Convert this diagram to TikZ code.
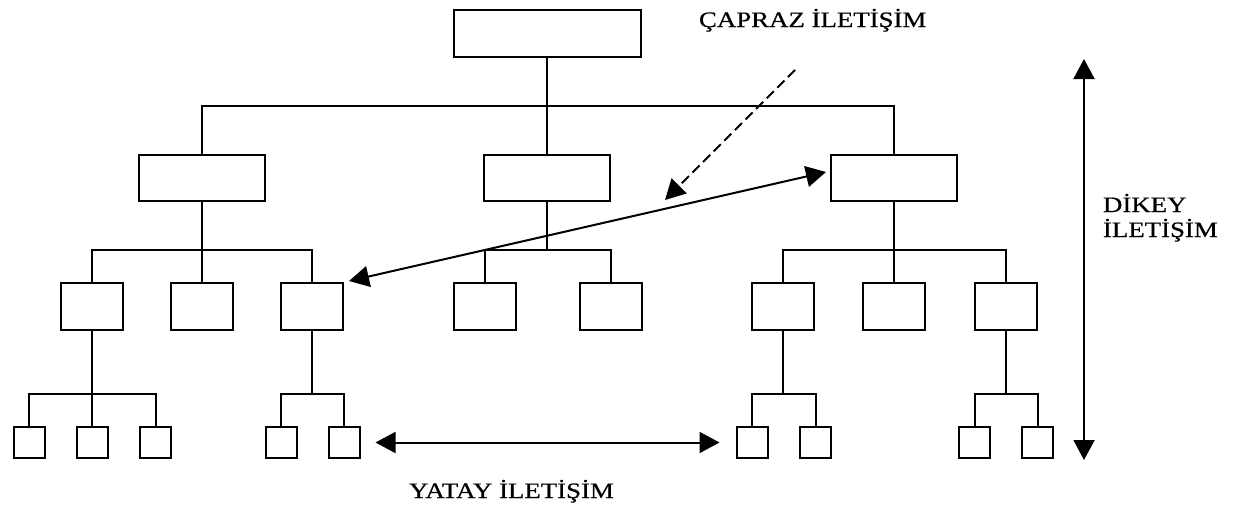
\documentclass[tikz,border=0pt]{standalone}
\usepackage{fontspec}
\setmainfont{Liberation Serif}[FakeStretch=1.22,FakeBold=0.6]
\usetikzlibrary{arrows.meta}
\begin{document}
\begin{tikzpicture}[x=1pt,y=-1pt,line width=2pt,
  >={Triangle[length=20pt,width=21pt]},
  topbox/.style={draw,rectangle,inner sep=0pt,minimum width=187pt,minimum height=47pt},
  midbox/.style={draw,rectangle,inner sep=0pt,minimum width=126pt,minimum height=46pt},
  unitbox/.style={draw,rectangle,inner sep=0pt,minimum width=62pt,minimum height=47pt},
  leafbox/.style={draw,rectangle,inner sep=0pt,minimum width=31pt,minimum height=31pt},
  lbl/.style={font=\fontsize{22}{25}\selectfont,inner sep=0pt,anchor=base west},
  dashedarrow/.style={->,dash pattern=on 10pt off 5pt}]
\useasboundingbox (0,0) rectangle (1234,507);

% top level
\node[topbox] (top) at (547,33.5) {};

% second level
\node[midbox] (m1) at (202,178) {};
\node[midbox] (m2) at (547,178) {};
\node[midbox] (m3) at (894,178) {};

% third level
\node[unitbox] (u1) at (92,306.5) {};
\node[unitbox] (u2) at (202,306.5) {};
\node[unitbox] (u3) at (312,306.5) {};
\node[unitbox] (u4) at (485,306.5) {};
\node[unitbox] (u5) at (610.5,306.5) {};
\node[unitbox] (u6) at (783,306.5) {};
\node[unitbox] (u7) at (894,306.5) {};
\node[unitbox] (u8) at (1005.5,306.5) {};

% fourth level
\node[leafbox] (a1) at (29,442.5) {};
\node[leafbox] (a2) at (92,442.5) {};
\node[leafbox] (a3) at (155.5,442.5) {};
\node[leafbox] (a4) at (281,442.5) {};
\node[leafbox] (a5) at (344,442.5) {};
\node[leafbox] (a6) at (752,442.5) {};
\node[leafbox] (a7) at (815.5,442.5) {};
\node[leafbox] (a8) at (974.5,442.5) {};
\node[leafbox] (a9) at (1037.5,442.5) {};

% tree connectors
\coordinate (j0) at (547,106);
\draw (top.south) -- (j0);
\draw (m1.north) |- (j0) -| (m3.north);
\draw (j0) -- (m2.north);

\coordinate (j1) at (202,250);
\draw (m1.south) -- (j1);
\draw (u1.north) |- (j1) -| (u3.north);
\draw (j1) -- (u2.north);

\coordinate (j2) at (547,250);
\draw (m2.south) -- (j2);
\draw (u4.north) |- (j2) -| (u5.north);

\coordinate (j3) at (894,250);
\draw (m3.south) -- (j3);
\draw (u6.north) |- (j3) -| (u8.north);
\draw (j3) -- (u7.north);

\coordinate (k1) at (92,394);
\draw (u1.south) -- (k1);
\draw (a1.north) |- (k1) -| (a3.north);
\draw (k1) -- (a2.north);

\coordinate (k2) at (312,394);
\draw (u3.south) -- (k2);
\draw (a4.north) |- (k2) -| (a5.north);

\coordinate (k3) at (783,394);
\draw (u6.south) -- (k3);
\draw (a6.north) |- (k3) -| (a7.north);

\coordinate (k4) at (1005.5,394);
\draw (u8.south) -- (k4);
\draw (a8.north) |- (k4) -| (a9.north);

% communication arrows
\draw[<->] ([shift={(5,-1)}]u3.north east) -- ([shift={(-4,-6)}]m3.west);
\coordinate (d0) at (795,70);
\coordinate (d1) at (665,200);
\draw[dashedarrow] (d0) -- (d1);
\draw[<->] ([xshift=15]a5.east) -- ([xshift=-16]a6.west);
\coordinate (v0) at (1084,59);
\coordinate (v1) at (1084,460);
\draw[<->] (v0) -- (v1);

% labels
\node[lbl] (capraz) at (698,27) {ÇAPRAZ İLETİŞİM};
\node[lbl] (yatay) at (408,498) {YATAY İLETİŞİM};
\node[lbl] (dikey1) at (1102,212) {DİKEY};
\node[lbl] (dikey2) at (1102,237) {İLETİŞİM};
\end{tikzpicture}
\end{document}
